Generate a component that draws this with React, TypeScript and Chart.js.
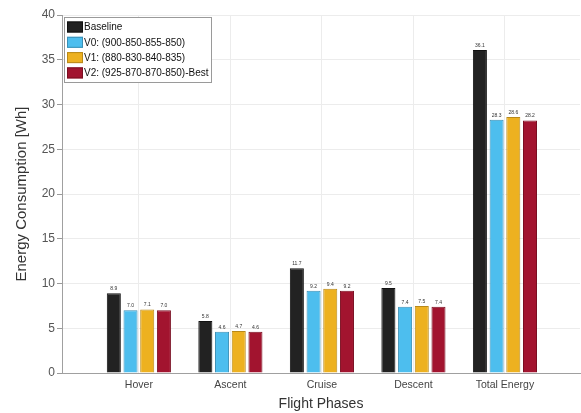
import React, { useEffect, useRef } from "react";
import { Chart, registerables } from "chart.js";

Chart.register(...registerables);

const categories = ["Hover", "Ascent", "Cruise", "Descent", "Total Energy"];
const seriesNames = [
  "Baseline",
  "V0: (900-850-855-850)",
  "V1: (880-830-840-835)",
  "V2: (925-870-870-850)-Best",
];
const baseline = [8.9, 5.8, 11.7, 9.5, 36.1];
const v0 = [7.0, 4.6, 9.2, 7.4, 28.3];
const v1 = [7.1, 4.7, 9.4, 7.5, 28.6];
const v2 = [7.0, 4.6, 9.2, 7.4, 28.2];
const yTicks = [0, 5, 10, 15, 20, 25, 30, 35, 40];

const colors = ["#222222", "#4DBEEE", "#EDB120", "#A2142F"];
const borders = ["#111111", "#3a8fb5", "#b8891a", "#7a0f22"];
const FONT = "'Liberation Sans', Arial, sans-serif";

const valueLabels = {
  id: "valueLabels",
  afterDatasetsDraw(chart: any) {
    const ctx = chart.ctx;
    ctx.save();
    ctx.font = `5px ${FONT}`;
    ctx.fillStyle = "#333";
    ctx.textAlign = "center";
    ctx.textBaseline = "bottom";
    chart.data.datasets.forEach((ds: any, i: number) => {
      const meta = chart.getDatasetMeta(i);
      meta.data.forEach((el: any, j: number) => {
        ctx.fillText(ds.data[j].y.toFixed(1), el.x, el.y - 2);
      });
    });
    ctx.restore();
  },
};

const boxLegend = {
  id: "boxLegend",
  afterDraw(chart: any) {
    const ctx = chart.ctx;
    const a = chart.chartArea;
    const x0 = a.left + 2;
    const y0 = a.top + 2;
    const w = 147;
    const h = 65;
    ctx.save();
    ctx.fillStyle = "#fff";
    ctx.fillRect(x0, y0, w, h);
    ctx.strokeStyle = "#9a9a9a";
    ctx.lineWidth = 1;
    ctx.strokeRect(x0 + 0.5, y0 + 0.5, w, h);
    ctx.font = `10px ${FONT}`;
    ctx.textBaseline = "middle";
    ctx.textAlign = "left";
    chart.data.datasets.forEach((ds: any, i: number) => {
      const cy = y0 + 10 + i * 15.3;
      ctx.fillStyle = ds.backgroundColor;
      ctx.fillRect(x0 + 3, cy - 5.5, 16, 11);
      ctx.strokeStyle = ds.borderColor;
      ctx.strokeRect(x0 + 3.5, cy - 5, 15, 10);
      ctx.fillStyle = "#111";
      ctx.fillText(ds.label, x0 + 20, cy + 0.5);
    });
    ctx.restore();
  },
};

export default function App() {
  const ref = useRef<HTMLCanvasElement | null>(null);
  useEffect(() => {
    document.body.style.margin = "0";
    const series = [baseline, v0, v1, v2];
    const chart = new Chart(ref.current as HTMLCanvasElement, {
      type: "bar",
      data: {
        datasets: series.map((vals, i) => ({
          label: seriesNames[i],
          data: vals.map((y, j) => ({ x: j + 1, y })),
          backgroundColor: colors[i],
          borderColor: borders[i],
          borderWidth: 1,
          categoryPercentage: 0.73,
          barPercentage: 0.84,
        })),
      },
      options: {
        responsive: false,
        animation: false,
        layout: { padding: { left: 0, right: 1, top: 15, bottom: 0 } },
        plugins: { legend: { display: false }, tooltip: { enabled: false } },
        scales: {
          x: {
            type: "linear",
            offset: false,
            min: 0.16,
            max: 5.82,
            afterBuildTicks: (scale: any) => {
              scale.ticks = categories.map((_, i) => ({ value: i + 1 }));
            },
            afterFit: (scale: any) => {
              scale.height = 40;
            },
            ticks: {
              callback: (v: any) => categories[Math.round(v) - 1] ?? "",
              font: { family: FONT, size: 10.5 },
              color: "#444",
              padding: 6,
              maxRotation: 0,
              autoSkip: false,
            },
            grid: { color: "#ececec", drawTicks: false, offset: false },
            border: { color: "#a0a0a0" },
            title: {
              display: true,
              text: "Flight Phases",
              font: { family: FONT, size: 14 },
              color: "#333",
              padding: { top: 0, bottom: 0 },
            },
          },
          y: {
            min: 0,
            max: 40,
            afterBuildTicks: (scale: any) => {
              scale.ticks = yTicks.map((v) => ({ value: v }));
            },
            afterFit: (scale: any) => {
              scale.width = 62;
            },
            ticks: {
              font: { family: FONT, size: 12 },
              color: "#555",
              padding: 2,
            },
            grid: { color: "#ececec", tickLength: 5, tickColor: "#9a9a9a" },
            border: { color: "#a0a0a0" },
            title: {
              display: true,
              text: "Energy Consumption [Wh]",
              font: { family: FONT, size: 15 },
              color: "#333",
              padding: { top: 13, bottom: 0 },
            },
          },
        },
      },
      plugins: [valueLabels, boxLegend],
    } as any);
    return () => chart.destroy();
  }, []);
  return (
    <div style={{ position: "relative", width: 581, height: 413, background: "#fff" }}>
      <canvas ref={ref} width={581} height={413} style={{ display: "block" }} />
    </div>
  );
}
